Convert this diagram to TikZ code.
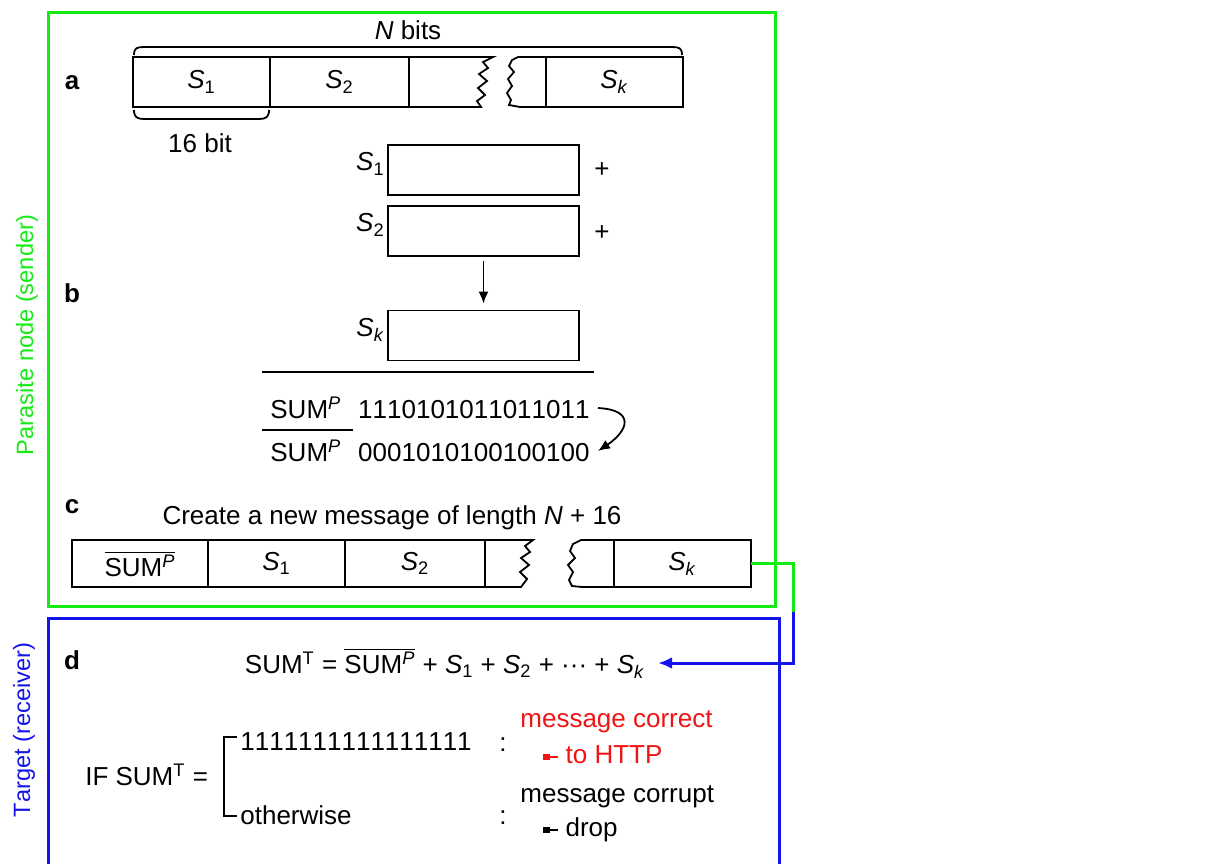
\documentclass[tikz,border=0pt]{standalone}
\usepackage{fontspec}
\setmainfont{Liberation Sans}[Kerning=Off]
\usetikzlibrary{arrows.meta,positioning,calc}
\definecolor{sendgreen}{RGB}{20,235,20}
\definecolor{recvblue}{RGB}{20,20,235}
\definecolor{okred}{RGB}{240,20,20}
\newcommand{\Sb}[1]{\textit{S}\textsubscript{#1}}
\newcommand{\sump}{SUM\textsuperscript{\textit{P}}}
\newcommand{\sumt}{SUM\textsuperscript{T}}
\newcommand{\nsump}{$\overline{\mbox{\sump}}$}
\newcommand{\pointer}{\rule[1.8pt]{3.5pt}{3pt}\rule[2.8pt]{4pt}{1pt}}
\tikzset{
    cellbox/.style={draw, line width=0.9pt, minimum height=25pt, inner sep=0pt, outer sep=0pt},
    stackbox/.style={draw, line width=0.9pt, minimum width=95.5pt, minimum height=25pt, inner sep=0pt},
    rowlabel/.style={font=\fontsize{13}{15}\selectfont\bfseries},
    sidelabel/.style={rotate=90, font=\fontsize{11.8}{14}\selectfont},
    flowarrow/.style={-{Latex[length=6pt,width=5pt]}, line width=0.9pt},
    linkline/.style={line width=1.5pt}
}

\begin{document}
\begin{tikzpicture}[x=0.5pt, y=-0.5pt, font=\fontsize{13}{15}\selectfont]
    \useasboundingbox (0,0) rectangle (1225,863);
    % sender and receiver frames
    \draw[sendgreen, line width=1.5pt] (48,12) rectangle (775,606);
    \draw[recvblue, line width=1.5pt] (48,870) -- (48,618) -- (779,618) -- (779,870);
    \node[sidelabel, text=sendgreen] (sender) at (27,335) {Parasite node (sender)};
    \node[sidelabel, text=recvblue] (receiver) at (24,730) {Target (receiver)};

    % a
    \node[rowlabel] (la) at (72,83) {a};
    \node[cellbox, minimum width=68.5pt] (a1) at (201.5,82) {\Sb{1}};
    \node[cellbox, minimum width=69.5pt] (a2) at (339.5,82) {\Sb{2}};
    \node[cellbox, minimum width=68.5pt] (ak) at (614.5,82) {\Sb{\textit{k}}};
    \draw[line width=0.9pt] (a2.north east) -- (493,57) -- (483,62) -- (488,68) -- (479,74) -- (487,81) -- (478,88) -- (485,95) -- (477,101) -- (481,107) -- (a2.south east);
    \draw[line width=0.9pt] (ak.north west) -- (518,57) -- (512,60) -- (509,66) -- (514,72) -- (508,79) -- (512,86) -- (507,93) -- (511,100) -- (509,105) -- (520,107) -- (ak.south west);
    \draw[line width=0.9pt] (134,55) .. controls (134,48) and (137,47) .. (144,47) -- (672,47) .. controls (679,47) and (682,48) .. (682,55);
    \node (nbits) at (408,30) {\textit{N} bits};
    \draw[line width=0.9pt] (134,110) .. controls (134,117) and (137,119) .. (144,119) -- (259,119) .. controls (266,119) and (269,117) .. (269,110);
    \node (wordlen) at (200,143) {16 bit};

    % b
    \node[rowlabel] (lb) at (72,293) {b};
    \node[stackbox] (s1) at (483.5,170) {};
    \node[stackbox] (s2) at (483.5,231) {};
    \node[stackbox] (sk) at (483.5,335.5) {};
    \node[anchor=east, inner sep=1pt] (s1lab) at ([yshift=3pt]s1.west) {\Sb{1}};
    \node[anchor=east, inner sep=1pt] (s2lab) at ([yshift=3pt]s2.west) {\Sb{2}};
    \node[anchor=east, inner sep=1pt] (sklab) at ([yshift=3pt]sk.west) {\Sb{\textit{k}}};
    \node (s1plus) at (602,170) {+};
    \node (s2plus) at (602,233) {+};
    \draw[flowarrow] ([yshift=-2pt]s2.south) -- ([yshift=3pt]sk.north);
    \draw[line width=0.9pt] (262,372) -- (594,372);
    \node[anchor=west, inner sep=0pt] (sum1) at (270,408) {\sump\hspace{0.65em}1110101011011011};
    \node[anchor=west, inner sep=0pt] (sum2) at (270,451) {\sump\hspace{0.65em}0001010100100100};
    \draw[line width=0.9pt] (262,430) -- (353,430);
    \draw[flowarrow] ([xshift=4pt]sum1.east) .. controls +(38,2) and +(30,-20) .. ([xshift=4pt]sum2.east);

    % c
    \node[rowlabel] (lc) at (72,507) {c};
    \node (newmsg) at (392,518) {Create a new message of length \textit{N} + 16};
    \node[cellbox, minimum width=68pt, minimum height=23.5pt] (c0) at (140,563.5) {\nsump};
    \node[cellbox, minimum width=68.5pt, minimum height=23.5pt] (c1) at (276.5,563.5) {\Sb{1}};
    \node[cellbox, minimum width=70pt, minimum height=23.5pt] (c2) at (415,563.5) {\Sb{2}};
    \node[cellbox, minimum width=68.5pt, minimum height=23.5pt] (ck) at (682.5,563.5) {\Sb{\textit{k}}};
    \draw[line width=0.9pt] (c2.north east) -- (533,540) -- (525,546) -- (530,552) -- (521,558) -- (529,565) -- (520,572) -- (527,579) -- (521,587) -- (c2.south east);
    \draw[line width=0.9pt] (ck.north west) -- (581,540) -- (573,544) -- (570,551) -- (575,558) -- (568,565) -- (573,572) -- (569,580) -- (572,586) -- (582,587) -- (ck.south west);

    % d
    \node[rowlabel] (ld) at (72,660) {d};
    \node (eqn) at (445,663) {\sumt\ = \nsump\ + \Sb{1} + \Sb{2} + ··· + \Sb{\textit{k}}};
    \coordinate (jn) at (793,612);
    \draw[linkline, sendgreen] (ck.east) -| (jn);
    \draw[linkline, recvblue, -{Latex[length=7pt,width=6pt]}] (jn) |- ([xshift=3pt]eqn.east);

    \node[anchor=east] (ifsum) at (215,775) {IF \sumt\ =};
    \draw[line width=0.9pt] (237,737) -- (224,737) -- (224,816) -- (237,816);
    \node[anchor=west, inner sep=0pt] (allones) at (240,742) {1111111111111111};
    \node[anchor=west, inner sep=0pt] (other) at (240,815) {otherwise};
    \node (colon1) at (503,745) {:};
    \node (colon2) at (503,818) {:};
    \node[anchor=west, inner sep=0pt, text=okred] (okmsg) at (520,722) {message correct};
    \node[anchor=west, inner sep=0pt, text=okred] (okact) at (543,755) {\pointer\ to HTTP};
    \node[anchor=west, inner sep=0pt] (badmsg) at (520,797) {message corrupt};
    \node[anchor=west, inner sep=0pt] (badact) at (543,830) {\pointer\ drop};
\end{tikzpicture}
\end{document}
